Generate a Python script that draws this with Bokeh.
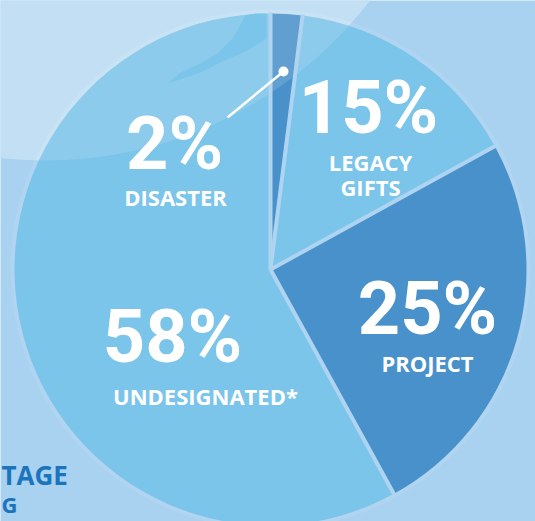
import numpy as np
from bokeh.plotting import figure
from bokeh.models import ColumnDataSource
from bokeh.core.properties import value
from bokeh.embed import file_html
from bokeh.resources import INLINE

# ---- data ----
categories = ["DISASTER", "LEGACY GIFTS", "PROJECT", "UNDESIGNATED*"]
percents = [2, 15, 25, 58]
pct_labels = ["2%", "15%", "25%", "58%"]
name_lines = [["DISASTER"], ["LEGACY", "GIFTS"], ["PROJECT"], ["UNDESIGNATED*"]]
slice_colors = ["#4991ca", "#7bc4ea", "#4991ca", "#7bc4ea"]

W, H = 535, 521
def Y(y):
    return H - np.asarray(y, dtype=float)

p = figure(width=W, height=H, x_range=(0, W), y_range=(0, H),
           output_backend="svg", toolbar_location=None, min_border=0,
           x_axis_location=None, y_axis_location=None)
p.grid.visible = False
p.outline_line_color = None
p.background_fill_color = "#a9d1f0"
p.border_fill_color = "#a9d1f0"

# decorative lighter backdrop circle (top-left)
bcx, bcy, bR = 45.0, -249.0, 409.0
p.circle(x=[bcx], y=Y([bcy]), radius=bR, fill_color="#c3dff3", line_color=None)

# pie geometry
cx, cy, R = 270.0, 269.0, 256.0
# faint outer ring
p.circle(x=[cx], y=Y([cy]), radius=R + 4, fill_color="#ffffff", fill_alpha=0.10, line_color=None)

vals = np.array(percents, dtype=float)
frac = vals / vals.sum()
cum = np.concatenate([[0], np.cumsum(frac)])
starts = np.pi / 2 - 2 * np.pi * cum[:-1]
ends = np.pi / 2 - 2 * np.pi * cum[1:]
src = ColumnDataSource(dict(start=starts, end=ends, color=slice_colors, cat=categories))
p.wedge(x=cx, y=float(Y(cy)), radius=R, start_angle="start", end_angle="end",
        direction="clock", fill_color="color", line_color=None, source=src)

# overlay: intersection of pie and the backdrop circle, lightened
t = np.linspace(0, 2 * np.pi, 1440, endpoint=False)
ax_, ay_ = cx + R * np.cos(t), cy + R * np.sin(t)
bx_, by_ = bcx + bR * np.cos(t), bcy + bR * np.sin(t)
inA = (bx_ - cx) ** 2 + (by_ - cy) ** 2 <= R ** 2
inB = (ax_ - bcx) ** 2 + (ay_ - bcy) ** 2 <= bR ** 2
px = np.concatenate([ax_[inB], bx_[inA]])
py = np.concatenate([ay_[inB], by_[inA]])
mx, my = px.mean(), py.mean()
order = np.argsort(np.arctan2(py - my, px - mx))
p.patch(x=px[order], y=Y(py[order]), fill_color="#ffffff", fill_alpha=0.13, line_color=None)

# decorative swoosh (un-lightened crescent)
sw_x = [167, 180, 200, 217, 233, 245, 255, 266, 266, 245, 222, 200, 167]
sw_y = [83, 72, 63, 53, 37, 15, 13, 13, 38, 51, 61, 72, 83]
p.patch(x=sw_x, y=Y(sw_y), fill_color="#7bc4ea", line_color=None)

# separators
bounds = np.pi / 2 - 2 * np.pi * cum[:-1]
p.segment(x0=cx, y0=float(Y(cy)), x1=cx + (R + 1) * np.cos(bounds), y1=Y(cy) + (R + 1) * np.sin(bounds),
          line_color="#aed4f1", line_width=4)

# leader line for the small slice
p.segment(x0=[227], y0=Y([117]), x1=[283], y1=Y([71]), line_color="white", line_width=2.5)
p.scatter(x=[283], y=Y([71]), size=10, marker="circle", fill_color="white", line_color=None)

# labels (y = visual middle of the capitals)
num_x = [174, 368, 427, 172]
num_y = [143, 107, 308, 336]
p.text(x=num_x, y=Y(num_y), text=pct_labels, text_color="white",
       text_font=value("Roboto"), text_font_style="bold",
       text_font_size="74px", text_align="center", text_baseline="middle")

nm_x = [175, 370, 370, 427, 205]
nm_y = [196, 161, 186, 362, 395]
nm_t = [name_lines[0][0], name_lines[1][0], name_lines[1][1], name_lines[2][0], name_lines[3][0]]
p.text(x=nm_x, y=Y(nm_y), text=nm_t, text_color="white",
       text_font=value("Open Sans"), text_font_style="bold",
       text_font_size="22px", text_align="center", text_baseline="middle")

# partial heading at the bottom left
p.text(x=[1], y=Y([474]), text=["TAGE"], text_color="#1b75bc",
       text_font=value("Open Sans"), text_font_style="bold",
       text_font_size="26px", text_align="left", text_baseline="middle")
p.text(x=[1], y=Y([503]), text=["G"], text_color="#1b75bc",
       text_font=value("Open Sans"), text_font_style="bold",
       text_font_size="22px", text_align="left", text_baseline="middle")

open("out.html", "w").write(file_html(p, INLINE))
